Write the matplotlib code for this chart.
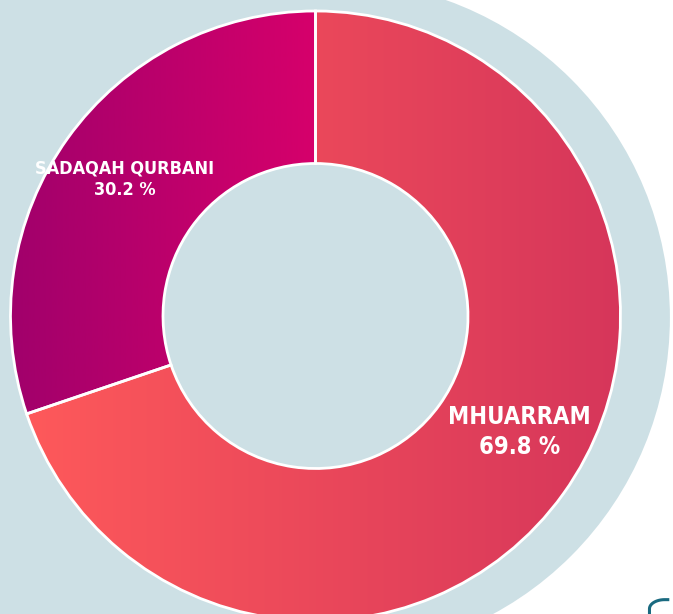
import numpy as np
import matplotlib
matplotlib.use("Agg")
from matplotlib import pyplot as plt
from matplotlib.colors import LinearSegmentedColormap
from matplotlib.patches import Circle, Rectangle

# Data
labels = ['SADAQAH QURBANI', 'MHUARRAM']
shares = [30.2, 69.8]
grad_colors = [('#a1006b', '#d6006b'), ('#ff5a5a', '#d6365b')]
grad_span = [(-1.0, 0.0), (-1.0, 1.0)]
label_nudge = [0, 6]          # degrees
label_size = [13, 17]

bg = '#cde0e5'

fig = plt.figure(figsize=(6.73, 6.14), dpi=100)
fig.patch.set_facecolor('white')
ax = fig.add_axes([0, 0, 1, 1])
ax.set_xlim(-315.5 / 305, (673 - 315.5) / 305)
ax.set_ylim(-298 / 305, 316 / 305)
ax.set_aspect('equal')
ax.axis('off')

# background panel + big circle
ax.add_patch(Rectangle((-2, -2), 2.05, 4, facecolor=bg, edgecolor='none', zorder=0))
ax.add_patch(Circle((0.057, -0.005), 1.105, facecolor=bg, edgecolor='none', zorder=0))

wedges, _ = ax.pie(shares, startangle=90, counterclock=True, radius=1.0,
                   wedgeprops=dict(width=0.5, facecolor='none', edgecolor='white',
                                   linewidth=2))
for w in wedges:
    w.set_zorder(3)

# gradient fill clipped to each wedge
for w, cols, span in zip(wedges, grad_colors, grad_span):
    cmap = LinearSegmentedColormap.from_list('g', cols)
    grad = np.linspace(0, 1, 256).reshape(1, -1)
    im = ax.imshow(grad, cmap=cmap, extent=[span[0], span[1], -1, 1],
                   aspect='auto', zorder=2, interpolation='bilinear')
    im.set_clip_path(w)

ax.set_xlim(-315.5 / 305, (673 - 315.5) / 305)
ax.set_ylim(-298 / 305, 316 / 305)

# labels
for w, lab, val, nud, fs in zip(wedges, labels, shares, label_nudge, label_size):
    ang = np.deg2rad((w.theta1 + w.theta2) / 2 + nud)
    r = 0.77
    ax.text(r * np.cos(ang), r * np.sin(ang), f'{lab}\n{val} %',
            ha='center', va='center', color='white', fontsize=fs,
            fontweight='bold', fontstretch='condensed', linespacing=1.3,
            family=['Liberation Sans Narrow', 'DejaVu Sans'], zorder=4)

# small corner decoration
t = np.linspace(0, np.pi / 2, 20)
xs = np.concatenate([[1.095, 1.095], 1.095 + 0.05 * (1 - np.cos(t)), [1.16]])
ys = np.concatenate([[-1.0, -0.96], -0.96 + 0.03 * np.sin(t), [-0.93]])
ax.plot(xs, ys, color='#1a6a80', lw=2.2, zorder=5, solid_capstyle='butt')

fig.savefig('out.png', dpi=100, facecolor='white')
